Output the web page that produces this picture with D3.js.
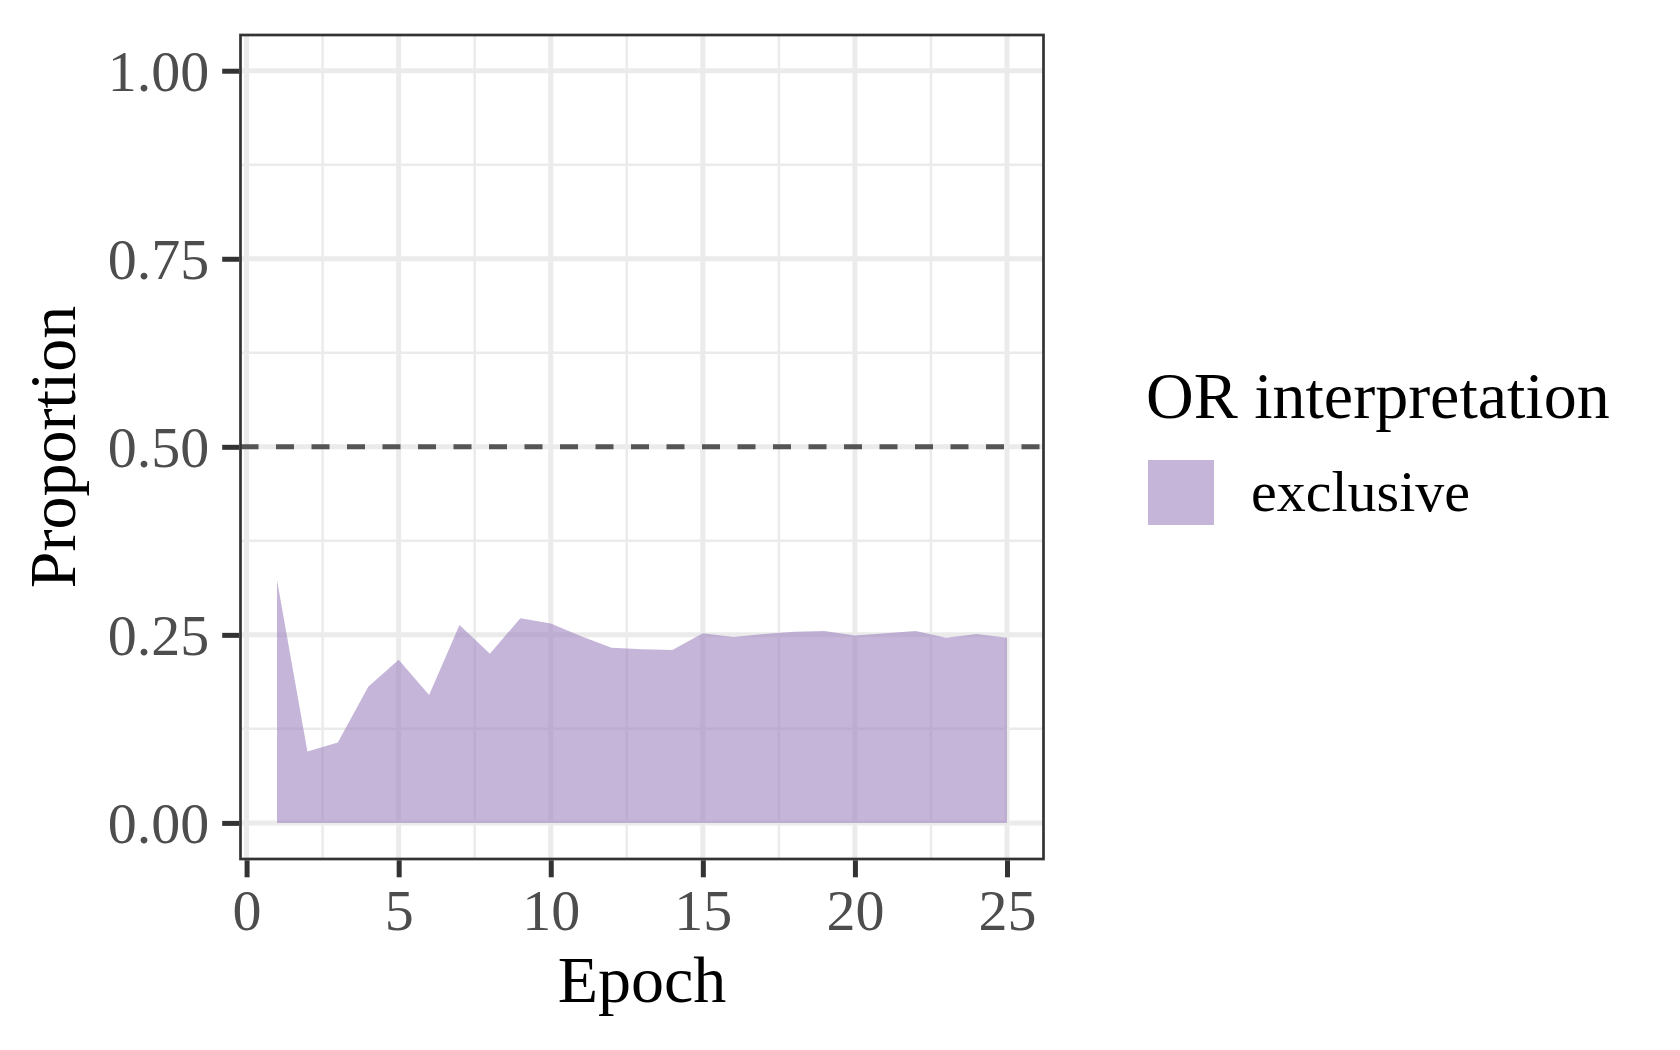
<!DOCTYPE html>
<html>
<head>
<meta charset="utf-8">
<script src="https://cdn.jsdelivr.net/npm/d3@7"></script>
<style>
  html, body { margin: 0; padding: 0; background: #fff; }
  svg { display: block; font-family: "Liberation Serif", "Times New Roman", serif; }
</style>
</head>
<body>
<svg id="chart" width="1680" height="1050"></svg>
<script>
// ---- data ----
const epochs = [1,2,3,4,5,6,7,8,9,10,11,12,13,14,15,16,17,18,19,20,21,22,23,24,25];
const exclusive = [0.323,0.095,0.107,0.181,0.217,0.170,0.263,0.225,0.272,0.265,0.248,0.233,0.231,0.230,0.252,0.247,0.251,0.254,0.255,0.249,0.252,0.255,0.246,0.251,0.246];
const xTicks = [0,5,10,15,20,25];
const xMinor = [2.5,7.5,12.5,17.5,22.5];
const yTicks = [0,0.25,0.5,0.75,1];
const yMinor = [0.125,0.375,0.625,0.875];
const refLine = 0.5;
const seriesName = "exclusive";
const legendTitle = "OR interpretation";
const xTitle = "Epoch";
const yTitle = "Proportion";

// ---- layout ----
const panel = {left: 240.5, right: 1043.5, top: 35, bottom: 859};
const svg = d3.select("#chart");

const x = d3.scaleLinear().domain([-0.2, 26.2]).range([panel.left, panel.right]);
const y = d3.scaleLinear().domain([-0.048, 1.0475]).range([panel.bottom, panel.top]);

const fillColor = "#9d84c0";
const fillOpacity = 0.6;

// panel background
svg.append("rect").attr("x", panel.left).attr("y", panel.top)
  .attr("width", panel.right - panel.left).attr("height", panel.bottom - panel.top)
  .attr("fill", "#fff");

const grid = svg.append("g");
// minor grid
grid.selectAll(".xminor").data(xMinor).join("line")
  .attr("x1", d => x(d)).attr("x2", d => x(d))
  .attr("y1", panel.top).attr("y2", panel.bottom)
  .attr("stroke", "#EBEBEB").attr("stroke-width", 2.5);
grid.selectAll(".yminor").data(yMinor).join("line")
  .attr("y1", d => y(d)).attr("y2", d => y(d))
  .attr("x1", panel.left).attr("x2", panel.right)
  .attr("stroke", "#EBEBEB").attr("stroke-width", 2.5);
// major grid
grid.selectAll(".xmajor").data(xTicks).join("line")
  .attr("x1", d => x(d)).attr("x2", d => x(d))
  .attr("y1", panel.top).attr("y2", panel.bottom)
  .attr("stroke", "#EBEBEB").attr("stroke-width", 5);
grid.selectAll(".ymajor").data(yTicks).join("line")
  .attr("y1", d => y(d)).attr("y2", d => y(d))
  .attr("x1", panel.left).attr("x2", panel.right)
  .attr("stroke", "#EBEBEB").attr("stroke-width", 5);

// area
const data = epochs.map((e, i) => ({e, v: exclusive[i]}));
const area = d3.area().x(d => x(d.e)).y0(y(0)).y1(d => y(d.v));
svg.append("path").datum(data).attr("d", area)
  .attr("fill", fillColor).attr("fill-opacity", fillOpacity);

// reference line
svg.append("line")
  .attr("x1", panel.left).attr("x2", panel.right)
  .attr("y1", y(refLine)).attr("y2", y(refLine))
  .attr("stroke", "#555555").attr("stroke-width", 5)
  .attr("stroke-dasharray", "18,17.5");

// panel border
svg.append("rect").attr("x", panel.left).attr("y", panel.top)
  .attr("width", panel.right - panel.left).attr("height", panel.bottom - panel.top)
  .attr("fill", "none").attr("stroke", "#333333").attr("stroke-width", 2.7);

// axes
const yAxis = svg.append("g").attr("transform", `translate(${panel.left - 1.3},0)`)
  .call(d3.axisLeft(y).tickValues(yTicks).tickFormat(d3.format(".2f")).tickSize(17).tickPadding(13));
const xAxis = svg.append("g").attr("transform", `translate(0,${panel.bottom + 1.3})`)
  .call(d3.axisBottom(x).tickValues(xTicks).tickFormat(d3.format("d")).tickSize(17).tickPadding(12));
[yAxis, xAxis].forEach(a => {
  a.select(".domain").remove();
  a.selectAll(".tick line").attr("stroke", "#333333").attr("stroke-width", 5);
  a.selectAll(".tick text").attr("fill", "#4D4D4D")
    .style("font-family", "'Liberation Serif', 'Times New Roman', serif")
    .style("font-size", "58px");
});
yAxis.selectAll(".tick text").attr("dy", "0.34em");
xAxis.selectAll(".tick text").attr("dy", "0.71em");

// axis titles
svg.append("text").attr("x", (panel.left + panel.right) / 2).attr("y", 1002)
  .attr("text-anchor", "middle").attr("fill", "#000").style("font-size", "66px")
  .text(xTitle);
svg.append("text").attr("transform", `translate(75,${(panel.top + panel.bottom) / 2}) rotate(-90)`)
  .attr("text-anchor", "middle").attr("fill", "#000").style("font-size", "66px")
  .text(yTitle);

// legend
const lg = svg.append("g");
lg.append("text").attr("x", 1146).attr("y", 418).attr("fill", "#000")
  .style("font-size", "66px").text(legendTitle);
lg.append("rect").attr("x", 1148).attr("y", 460).attr("width", 66).attr("height", 65)
  .attr("fill", fillColor).attr("fill-opacity", fillOpacity);
lg.append("text").attr("x", 1251).attr("y", 511).attr("fill", "#000")
  .style("font-size", "58px").text(seriesName);
</script>
</body>
</html>
